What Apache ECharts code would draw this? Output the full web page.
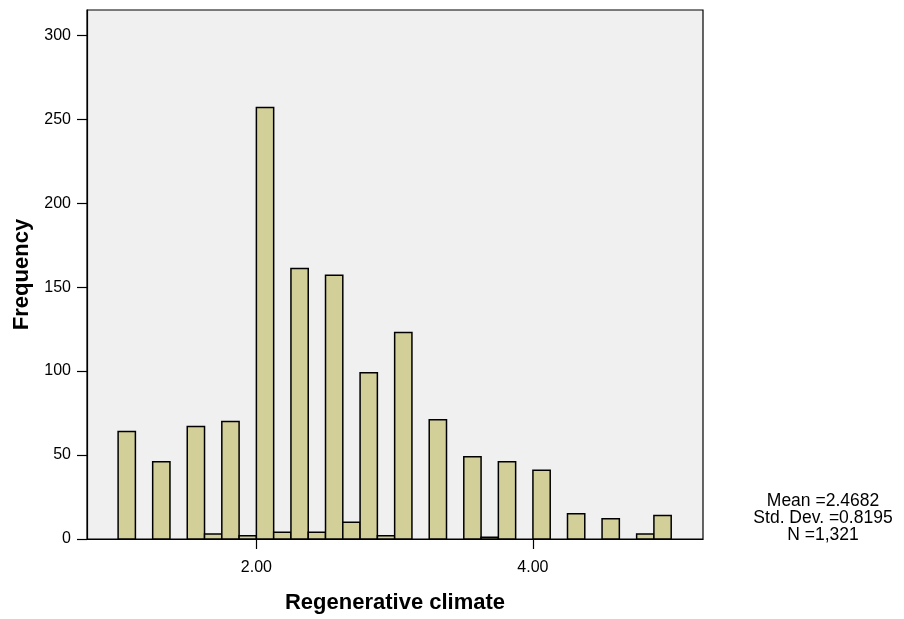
<!DOCTYPE html>
<html>
<head>
<meta charset="utf-8">
<script src="https://cdn.jsdelivr.net/npm/echarts@6/dist/echarts.min.js"></script>
<style>
html,body{margin:0;padding:0;background:#fff;}
#chart{width:904px;height:619px;}
</style>
</head>
<body>
<div id="chart"></div>
<script>
// Histogram bins (lower edges) and frequencies
const binWidth = 0.125;
const binStarts = [1.0, 1.25, 1.5, 1.625, 1.75, 1.875, 2.0, 2.125, 2.25, 2.375, 2.5, 2.625, 2.75, 2.875, 3.0, 3.25, 3.5, 3.625, 3.75, 4.0, 4.25, 4.5, 4.75, 4.875];
const counts    = [64,  46,   67,  3,     70,   2,     257, 4,     161,  4,     157, 10,    99,   2,     123, 71,   49,  1,     46,   41,  15,   12,  3,    14];
const yTicks = [0, 50, 100, 150, 200, 250, 300];
const xTicks = [2, 4];
const statsLines = ['Mean =2.4682', 'Std. Dev. =0.8195', 'N =1,321'];
const xTitle = 'Regenerative climate';
const yTitle = 'Frequency';

const FONT = '"Liberation Sans", Arial, sans-serif';
const chart = echarts.init(document.getElementById('chart'), null, {renderer: 'canvas'});

const data = binStarts.map((s, i) => [s, s + binWidth, counts[i]]);

chart.setOption({
  animation: false,
  backgroundColor: '#ffffff',
  grid: {
    left: 87, right: 201, top: 10, bottom: 79,
    show: true, backgroundColor: '#f0f0f0', borderColor: '#000', borderWidth: 1.2
  },
  xAxis: {
    type: 'value', min: 0.775, max: 5.23,
    name: xTitle, nameLocation: 'middle', nameGap: 53,
    nameTextStyle: {fontFamily: FONT, fontSize: 22, fontWeight: 'bold', color: '#000'},
    axisLine: {show: true, onZero: false, lineStyle: {color: '#000', width: 1.2}},
    axisTick: {show: true, length: 10, lineStyle: {color: '#000', width: 1.2}, customValues: xTicks},
    axisLabel: {fontFamily: FONT, fontSize: 16, color: '#000', margin: 21, customValues: xTicks,
      formatter: v => Number(v).toFixed(2)},
    splitLine: {show: false}
  },
  yAxis: {
    type: 'value', min: 0, max: 315,
    name: yTitle, nameLocation: 'middle', nameGap: 54, nameRotate: 90,
    nameTextStyle: {fontFamily: FONT, fontSize: 22, fontWeight: 'bold', color: '#000'},
    axisLine: {show: true, lineStyle: {color: '#000', width: 1.2}},
    axisTick: {show: true, length: 10, lineStyle: {color: '#000', width: 1.2}, customValues: yTicks},
    axisLabel: {fontFamily: FONT, fontSize: 16, color: '#000', margin: 16, customValues: yTicks},
    splitLine: {show: false}
  },
  series: [{
    type: 'custom',
    data: data,
    encode: {x: [0, 1], y: 2},
    renderItem: function (params, api) {
      const p0 = api.coord([api.value(0), api.value(2)]);
      const p1 = api.coord([api.value(1), 0]);
      return {
        type: 'rect',
        shape: {x: p0[0], y: p0[1], width: p1[0] - p0[0], height: p1[1] - p0[1]},
        style: {fill: '#d3cf98', stroke: '#000', lineWidth: 1.5}
      };
    }
  }],
  graphic: statsLines.map((t, i) => ({
    type: 'text',
    x: 823, y: 501 + i * 17,
    style: {
      text: t,
      fontFamily: FONT, fontSize: 17.5,
      fill: '#000', align: 'center', verticalAlign: 'middle',
      textAlign: 'center', textVerticalAlign: 'middle'
    }
  }))
});
</script>
</body>
</html>
